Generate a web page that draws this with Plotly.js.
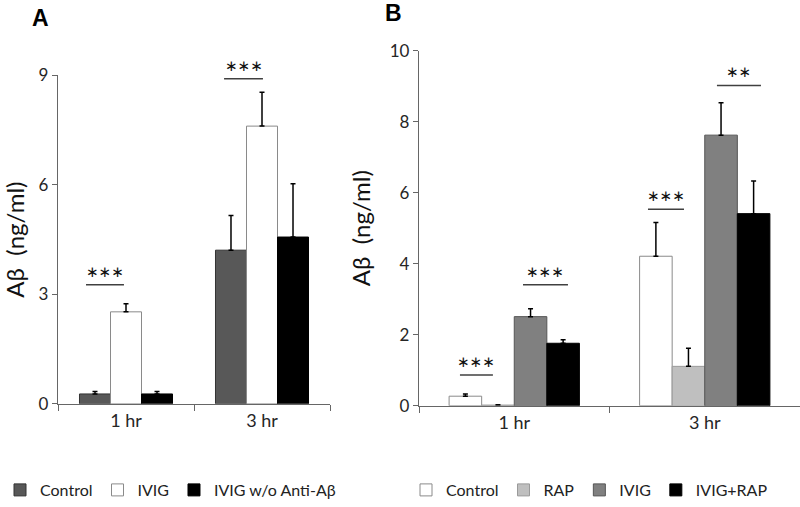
<!DOCTYPE html>
<html>
<head>
<meta charset="utf-8">
<script src="https://cdn.plot.ly/plotly-3.0.1.min.js"></script>
<style>
  body { margin: 0; background: #fff; }
  #plot { width: 800px; height: 507px; }
</style>
</head>
<body>
<div id="plot"></div>
<script>
// categories
const hours = ['1 hr', '3 hr'];

// panel A values (ng/ml) and SEM
const ctrlA = [0.27, 4.21];
const ctrlAErr = [0.07, 0.95];
const ivigA = [2.52, 7.61];
const ivigAErr = [0.22, 0.93];
const noAbA = [0.27, 4.57];
const noAbAErr = [0.07, 1.46];

// panel B values (ng/ml) and SEM
const ctrlB = [0.27, 4.21];
const ctrlBErr = [0.06, 0.95];
const rapB = [0.02, 1.11];
const rapBErr = [0.01, 0.51];
const ivigB = [2.51, 7.62];
const ivigBErr = [0.22, 0.91];
const ivigRapB = [1.76, 5.41];
const ivigRapBErr = [0.10, 0.92];

const FONT = 'Lato, "Open Sans", sans-serif';

function barTrace(name, vals, errs, fill, outline, xa, ya, leg) {
    return {
        type: 'bar', name: name, x: hours, y: vals,
        xaxis: xa, yaxis: ya, legend: leg,
        marker: { color: fill, line: { color: outline, width: 1 } },
        error_y: { type: 'data', array: errs, arrayminus: errs.map(() => 0), symmetric: false,
                   color: '#000', thickness: 1.5, width: 2.5 }
    };
}

const traces = [
    barTrace('Control', ctrlA, ctrlAErr, '#585858', '#333', 'x', 'y', 'legend'),
    barTrace('IVIG', ivigA, ivigAErr, '#ffffff', '#8a8a8a', 'x', 'y', 'legend'),
    barTrace('IVIG w/o Anti-Aβ', noAbA, noAbAErr, '#000000', '#000', 'x', 'y', 'legend'),
    barTrace('Control', ctrlB, ctrlBErr, '#ffffff', '#8a8a8a', 'x2', 'y2', 'legend2'),
    barTrace('RAP', rapB, rapBErr, '#bfbfbf', '#9a9a9a', 'x2', 'y2', 'legend2'),
    barTrace('IVIG', ivigB, ivigBErr, '#808080', '#555', 'x2', 'y2', 'legend2'),
    barTrace('IVIG+RAP', ivigRapB, ivigRapBErr, '#000000', '#000', 'x2', 'y2', 'legend2')
];

// significance bars: [xref, yref, x0, x1, y, label]
const sig = [
    ['x', 'y', -0.294, -0.015, 3.26, '∗∗∗'],
    ['x', 'y', 0.721, 1.007, 8.91, '∗∗∗'],
    ['x2', 'y2', -0.285, -0.112, 0.87, '∗∗∗'],
    ['x2', 'y2', 0.046, 0.282, 3.41, '∗∗∗'],
    ['x2', 'y2', 0.702, 0.891, 5.53, '∗∗∗'],
    ['x2', 'y2', 1.064, 1.295, 9.02, '∗∗']
];

const shapes = sig.map(s => ({
    type: 'line', xref: s[0], yref: s[1], x0: s[2], x1: s[3], y0: s[4], y1: s[4],
    line: { color: '#404040', width: 1.5 }
}));

const annotations = sig.map(s => ({
    xref: s[0], yref: s[1], x: (s[2] + s[3]) / 2, y: s[4], yshift: 13,
    text: s[5], showarrow: false, font: { family: '"DejaVu Sans", sans-serif', size: 15, color: '#111' }
}));
annotations.push(
    { xref: 'paper', yref: 'paper', x: 40 / 800, y: 1 - 18 / 507, xanchor: 'center', yanchor: 'middle',
      text: '<b>A</b>', showarrow: false, font: { family: 'Arial, sans-serif', size: 23, color: '#000' } },
    { xref: 'paper', yref: 'paper', x: 393 / 800, y: 1 - 13 / 507, xanchor: 'center', yanchor: 'middle',
      text: '<b>B</b>', showarrow: false, font: { family: 'Arial, sans-serif', size: 23, color: '#000' } }
);

const xCommon = {
    type: 'category', range: [-0.5, 1.5], showline: true, linecolor: '#666', linewidth: 1.2,
    ticks: 'outside', tickson: 'boundaries', ticklen: 6, tickcolor: '#666',
    tickfont: { family: FONT, size: 18, color: '#262626' }, showgrid: false, zeroline: false
};
const yCommon = {
    showline: true, linecolor: '#666', linewidth: 1.2, ticks: 'outside', ticklen: 5, tickcolor: '#666',
    tickfont: { family: FONT, size: 17, color: '#262626' }, showgrid: false, zeroline: false,
    title: { text: 'Aβ  (ng/ml)', font: { family: FONT, size: 24, color: '#111' } }
};

const layout = {
    width: 800, height: 507,
    margin: { l: 0, r: 0, t: 0, b: 0 },
    paper_bgcolor: '#fff', plot_bgcolor: '#fff',
    barmode: 'group', bargap: 0.316, bargroupgap: 0,
    font: { family: FONT },
    xaxis: Object.assign({}, xCommon, { domain: [58 / 800, 330 / 800], anchor: 'y' }),
    yaxis: Object.assign({}, yCommon, { domain: [1 - 407 / 507, 1 - 76 / 507], range: [0, 9],
        tickvals: [0, 3, 6, 9], anchor: 'x',
        title: Object.assign({}, yCommon.title, { standoff: 12 }) }),
    xaxis2: Object.assign({}, xCommon, { domain: [419 / 800, 1], anchor: 'y2' }),
    yaxis2: Object.assign({}, yCommon, { domain: [1 - 409 / 507, 1 - 51 / 507], range: [0, 10],
        tickvals: [0, 2, 4, 6, 8, 10], anchor: 'x2',
        title: Object.assign({}, yCommon.title, { standoff: 12 }) }),
    showlegend: true,
    legend: { orientation: 'h', x: 0, y: 13 / 507, xanchor: 'left', yanchor: 'middle',
              font: { family: FONT, size: 16, color: '#222' }, itemwidth: 30, tracegroupgap: 0,
              bgcolor: 'rgba(0,0,0,0)' },
    legend2: { orientation: 'h', x: 406 / 800, y: 13 / 507, xanchor: 'left', yanchor: 'middle',
               font: { family: FONT, size: 16, color: '#222' }, itemwidth: 30, tracegroupgap: 0,
               bgcolor: 'rgba(0,0,0,0)' },
    shapes: shapes,
    annotations: annotations
};

Plotly.newPlot('plot', traces, layout, { displayModeBar: false, staticPlot: true });
</script>
</body>
</html>
